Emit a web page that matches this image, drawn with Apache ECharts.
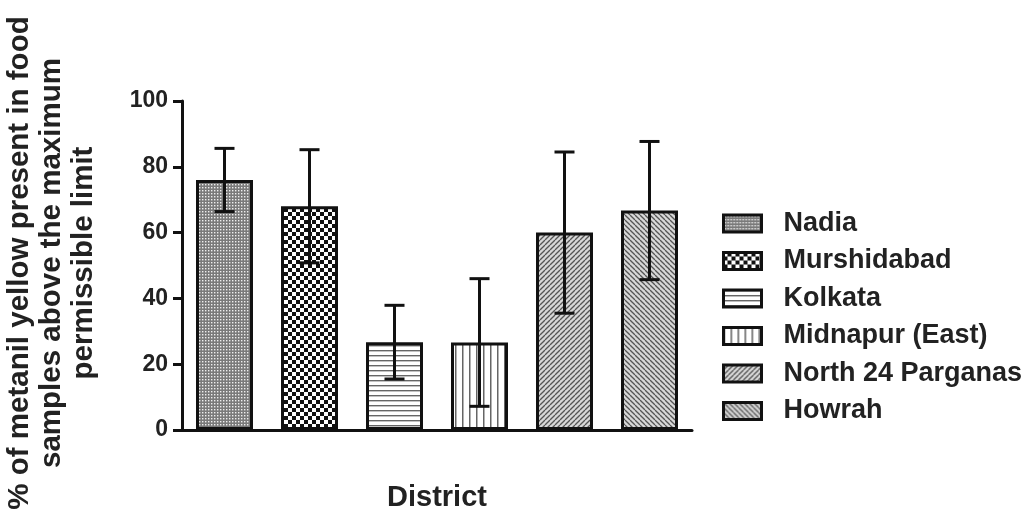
<!DOCTYPE html>
<html>
<head>
<meta charset="utf-8">
<script src="https://cdn.jsdelivr.net/npm/echarts@6/dist/echarts.min.js"></script>
<style>
  html, body { margin: 0; padding: 0; background: #fff; }
  #main { width: 1035px; height: 517px; }
</style>
</head>
<body>
<div id="main"></div>
<script>
var districts = ['Nadia', 'Murshidabad', 'Kolkata', 'Midnapur (East)', 'North 24 Parganas', 'Howrah'];
var means = [76, 68, 26.7, 26.6, 60, 66.7];
var errors = [9.6, 17.2, 11.2, 19.4, 24.5, 21];
var yTicks = [0, 20, 40, 60, 80, 100];

function pattern(size, draw) {
    var c = document.createElement('canvas');
    c.width = size; c.height = size;
    var ctx = c.getContext('2d');
    ctx.fillStyle = '#fff';
    ctx.fillRect(0, 0, size, size);
    draw(ctx, size);
    return { image: c, repeat: 'repeat' };
}

var fills = [
    // fine grey dots
    pattern(3, function (ctx) {
        ctx.fillStyle = '#7a7a7a'; ctx.fillRect(0, 0, 3, 3);
        ctx.fillStyle = '#eee'; ctx.fillRect(1, 1, 1.4, 1.4);
    }),
    // checker
    pattern(8, function (ctx) {
        ctx.fillStyle = '#111';
        ctx.fillRect(4, 0, 4, 4); ctx.fillRect(0, 4, 4, 4);
    }),
    // horizontal lines
    pattern(5, function (ctx) {
        ctx.fillStyle = '#666'; ctx.fillRect(0, 0, 5, 1.4);
    }),
    // vertical lines
    pattern(7, function (ctx) {
        ctx.fillStyle = '#666'; ctx.fillRect(0, 0, 1.5, 7);
    }),
    // diagonal /
    pattern(5, function (ctx, s) {
        ctx.fillStyle = '#d8d8d8'; ctx.fillRect(0, 0, s, s);
        ctx.strokeStyle = '#555'; ctx.lineWidth = 1.3;
        [-s, 0, s].forEach(function (o) {
            ctx.beginPath(); ctx.moveTo(o, s); ctx.lineTo(o + s, 0); ctx.stroke();
        });
    }),
    // diagonal \
    pattern(5, function (ctx, s) {
        ctx.fillStyle = '#d8d8d8'; ctx.fillRect(0, 0, s, s);
        ctx.strokeStyle = '#555'; ctx.lineWidth = 1.3;
        [-s, 0, s].forEach(function (o) {
            ctx.beginPath(); ctx.moveTo(o, 0); ctx.lineTo(o + s, s); ctx.stroke();
        });
    })
];

var myChart = echarts.init(document.getElementById('main'));

var series = districts.map(function (name, i) {
    return {
        name: name,
        type: 'bar',
        barWidth: 57,
        barGap: '-100%',
        data: districts.map(function (d, j) { return j === i ? means[i] : '-'; }),
        itemStyle: { color: fills[i], borderColor: '#111', borderWidth: 3 }
    };
});

series.push({
    type: 'custom',
    z: 10,
    data: means.map(function (m, i) { return [i, m - errors[i], m + errors[i]]; }),
    encode: { x: 0, y: [1, 2] },
    renderItem: function (params, api) {
        var lo = api.coord([api.value(0), api.value(1)]);
        var hi = api.coord([api.value(0), api.value(2)]);
        var hw = 10;
        var st = { stroke: '#111', lineWidth: 3 };
        return {
            type: 'group',
            children: [
                { type: 'line', shape: { x1: lo[0], y1: lo[1], x2: hi[0], y2: hi[1] }, style: st },
                { type: 'line', shape: { x1: hi[0] - hw, y1: hi[1], x2: hi[0] + hw, y2: hi[1] }, style: st },
                { type: 'line', shape: { x1: lo[0] - hw, y1: lo[1], x2: lo[0] + hw, y2: lo[1] }, style: st }
            ]
        };
    }
});

var option = {
    animation: false,
    textStyle: { fontFamily: 'Liberation Sans, Arial, sans-serif' },
    grid: { left: 182, right: 343, top: 101, bottom: 87 },
    legend: {
        data: districts,
        orient: 'vertical',
        left: 722,
        top: 210,
        padding: 0,
        icon: 'rect',
        itemWidth: 38,
        itemHeight: 17,
        itemGap: 10.5,
        itemStyle: { borderColor: '#111', borderWidth: 3 },
        textStyle: { fontSize: 27, lineHeight: 27, fontWeight: 'bold', color: '#222', padding: [0, 0, 0, 17] }
    },
    xAxis: {
        type: 'category',
        data: districts,
        name: 'District',
        nameLocation: 'middle',
        nameGap: 53,
        nameTextStyle: { fontSize: 29, fontWeight: 'bold', color: '#222' },
        axisLine: { lineStyle: { color: '#111', width: 3 } },
        axisTick: { alignWithLabel: true, length: 8, lineStyle: { color: '#555', width: 1.5 } },
        axisLabel: { show: false }
    },
    yAxis: {
        type: 'value',
        min: yTicks[0],
        max: yTicks[yTicks.length - 1],
        interval: 20,
        axisLine: { show: true, lineStyle: { color: '#111', width: 3 } },
        axisTick: { show: true, length: 9, lineStyle: { color: '#111', width: 3 } },
        axisLabel: { fontSize: 23, fontWeight: 'bold', color: '#222', margin: 14 },
        splitLine: { show: false }
    },
    graphic: [{
        type: 'text',
        x: 52,
        y: 263,
        rotation: Math.PI / 2,
        style: {
            text: '% of metanil yellow present in food\nsamples above the maximum\npermissible limit',
            align: 'center',
            verticalAlign: 'middle',
            fontSize: 29.5,
            fontWeight: 'bold',
            lineHeight: 32,
            fill: '#222',
            fontFamily: 'Liberation Sans, Arial, sans-serif'
        }
    }],
    series: series
};

myChart.setOption(option);
</script>
</body>
</html>
